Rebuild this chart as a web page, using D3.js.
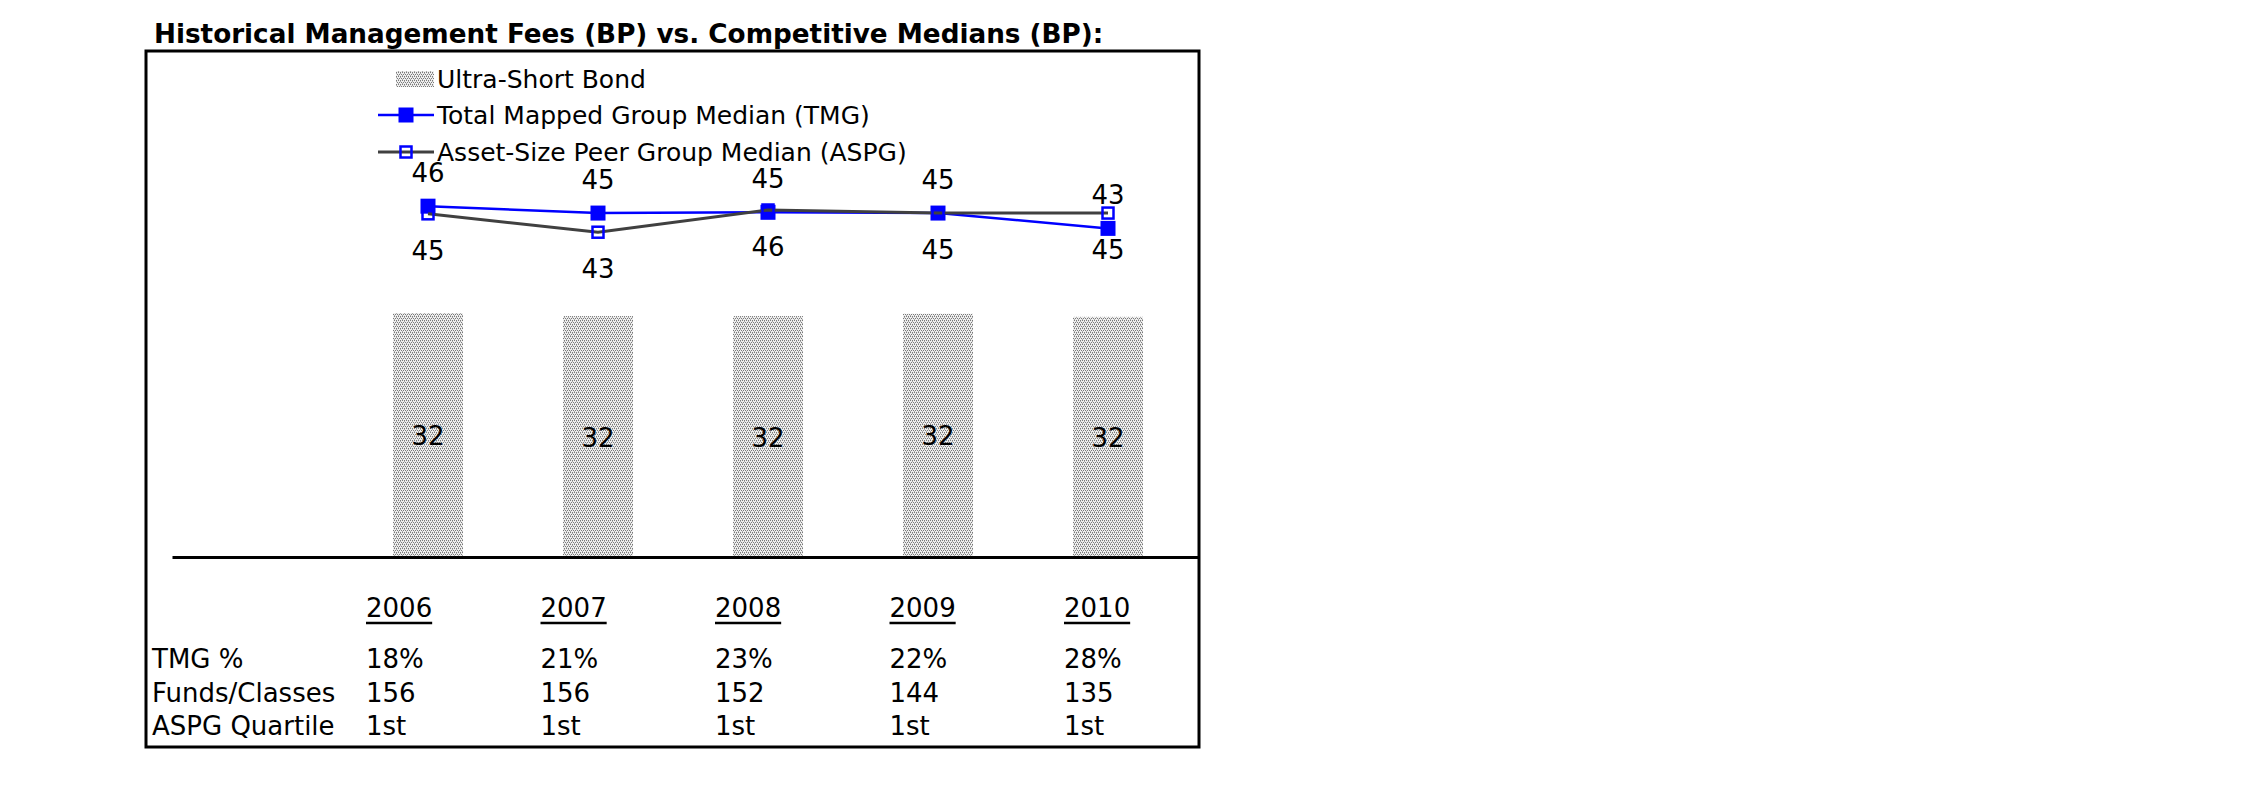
<!DOCTYPE html>
<html>
<head>
<meta charset="utf-8">
<script src="https://cdn.jsdelivr.net/npm/d3@7"></script>
<style>
  html, body { margin: 0; padding: 0; background: #fff; }
  svg { display: block; }
  text { font-family: "DejaVu Sans", Verdana, sans-serif; fill: #000; }
</style>
</head>
<body>
<script>
// ---- data ----
const years = ["2006", "2007", "2008", "2009", "2010"];
const barValues = [31.85, 31.45, 31.45, 31.75, 31.35];
const barLabels = ["32", "32", "32", "32", "32"];
const tmgValues = [45.8, 44.9, 45.0, 44.9, 42.9];
const tmgLabels = ["46", "45", "45", "45", "43"];
const aspgValues = [44.8, 42.4, 45.3, 44.9, 44.9];
const aspgLabels = ["45", "43", "46", "45", "45"];
const tmgPct = ["18%", "21%", "23%", "22%", "28%"];
const fundsClasses = ["156", "156", "152", "144", "135"];
const aspgQuartile = ["1st", "1st", "1st", "1st", "1st"];
const rowLabels = ["TMG %", "Funds/Classes", "ASPG Quartile"];
const seriesNames = ["Ultra-Short Bond", "Total Mapped Group Median (TMG)", "Asset-Size Peer Group Median (ASPG)"];
const titleText = "Historical Management Fees (BP) vs. Competitive Medians (BP):";

// ---- setup ----
const W = 2250, H = 796;
const BLUE = "#0000FF", GRAY = "#404040";
const svg = d3.select("body").append("svg").attr("width", W).attr("height", H);
svg.append("rect").attr("width", W).attr("height", H).attr("fill", "#fff");

const defs = svg.append("defs");
const pat = defs.append("pattern").attr("id", "dots").attr("patternUnits", "userSpaceOnUse")
  .attr("width", 4).attr("height", 4);
pat.append("rect").attr("width", 4).attr("height", 4).attr("fill", "#eeeeee");
[[0,0],[2,0],[1,2],[3,2],[0,1],[2,3]].forEach(([px,py]) => {
  pat.append("rect").attr("x", px).attr("y", py).attr("width", 1).attr("height", 1)
    .attr("fill", py % 2 === 0 ? "#7a7a7a" : "#ababab").attr("shape-rendering", "crispEdges");
});

// Title
const title = svg.append("text").attr("x", 154).attr("y", 43)
  .attr("font-weight", "bold").attr("font-size", 23).text(titleText);
const tl = title.node().getComputedTextLength();
title.attr("font-size", 23 * 950 / tl);

// Frame
svg.append("rect").attr("x", 146).attr("y", 51).attr("width", 1053).attr("height", 696)
  .attr("fill", "none").attr("stroke", "#000").attr("stroke-width", 3);

// Scales
const x = d3.scalePoint().domain(years).range([428, 1108]);
const y = d3.scaleLinear().domain([0, 50]).range([557, 174]);
const barW = 70;

// Bars
svg.append("g").selectAll("rect").data(years).join("rect")
  .attr("x", (d) => Math.round(x(d) - barW / 2))
  .attr("y", (d, i) => y(barValues[i]))
  .attr("width", barW)
  .attr("height", (d, i) => y(0) - y(barValues[i]))
  .attr("fill", "url(#dots)");

svg.append("g").selectAll("text").data(years).join("text")
  .attr("x", (d) => x(d)).attr("y", (d, i) => (y(0) + y(barValues[i])) / 2 + 10)
  .attr("text-anchor", "middle").attr("font-size", 26)
  .text((d, i) => barLabels[i]);

// Baseline axis
const xAxisLine = d3.axisBottom(d3.scaleLinear().range([172, 1199])).ticks(0).tickSize(0);
svg.append("g").attr("transform", `translate(0,${y(0)})`).call(xAxisLine)
  .call((g) => g.select(".domain").attr("stroke", "#000").attr("stroke-width", 3))
  .call((g) => g.selectAll(".tick").remove());

// Lines
const lineGen = d3.line().x((d) => x(d[0])).y((d) => y(d[1]));
const tmgPts = years.map((yr, i) => [yr, tmgValues[i]]);
const aspgPts = years.map((yr, i) => [yr, aspgValues[i]]);

svg.append("path").datum(tmgPts).attr("d", lineGen)
  .attr("fill", "none").attr("stroke", BLUE).attr("stroke-width", 2.5);
const mS = 15;
svg.append("g").selectAll("rect").data(tmgPts).join("rect")
  .attr("x", (d) => x(d[0]) - mS / 2).attr("y", (d) => y(d[1]) - mS / 2)
  .attr("width", mS).attr("height", mS).attr("fill", BLUE);

svg.append("path").datum(aspgPts).attr("d", lineGen)
  .attr("fill", "none").attr("stroke", GRAY).attr("stroke-width", 3);
const oS = 11;
svg.append("g").selectAll("rect").data(aspgPts).join("rect")
  .attr("x", (d) => x(d[0]) - oS / 2).attr("y", (d) => y(d[1]) - oS / 2)
  .attr("width", oS).attr("height", oS).attr("fill", "none")
  .attr("stroke", BLUE).attr("stroke-width", 2.5);

// Line labels
svg.append("g").selectAll("text").data(tmgPts).join("text")
  .attr("x", (d) => x(d[0])).attr("y", (d) => y(d[1]) - 24)
  .attr("text-anchor", "middle").attr("font-size", 26)
  .text((d, i) => tmgLabels[i]);
svg.append("g").selectAll("text").data(aspgPts).join("text")
  .attr("x", (d) => x(d[0])).attr("y", (d) => y(d[1]) + 46)
  .attr("text-anchor", "middle").attr("font-size", 26)
  .text((d, i) => aspgLabels[i]);

// Legend
const lg = svg.append("g").attr("class", "legend");
const legX0 = 378, legX1 = 434, legTextX = 437, swX0 = 396;
const rowsY = [79, 115, 152];
lg.append("rect").attr("x", swX0).attr("y", rowsY[0] - 8).attr("width", legX1 - swX0).attr("height", 16)
  .attr("fill", "url(#dots)");
lg.append("line").attr("x1", legX0).attr("x2", legX1).attr("y1", rowsY[1]).attr("y2", rowsY[1])
  .attr("stroke", BLUE).attr("stroke-width", 2.5);
lg.append("rect").attr("x", (legX0 + legX1) / 2 - mS / 2).attr("y", rowsY[1] - mS / 2)
  .attr("width", mS).attr("height", mS).attr("fill", BLUE);
lg.append("line").attr("x1", legX0).attr("x2", legX1).attr("y1", rowsY[2]).attr("y2", rowsY[2])
  .attr("stroke", GRAY).attr("stroke-width", 3);
lg.append("rect").attr("x", (legX0 + legX1) / 2 - oS / 2).attr("y", rowsY[2] - oS / 2)
  .attr("width", oS).attr("height", oS).attr("fill", "none").attr("stroke", BLUE).attr("stroke-width", 2.5);
lg.selectAll("text.lt").data(seriesNames).join("text").attr("class", "lt")
  .attr("x", legTextX).attr("y", (d, i) => rowsY[i] + 9)
  .attr("font-size", 25).text((d) => d);

// Data table below chart
const col = d3.scalePoint().domain(years).range([366, 1064]);
const tableRows = [tmgPct, fundsClasses, aspgQuartile];
const rowBase = [668, 702, 735];
const yearBase = 617;
const tbl = svg.append("g");
const yt = tbl.selectAll("text.yr").data(years).join("text").attr("class", "yr")
  .attr("x", (d) => col(d)).attr("y", yearBase).attr("font-size", 26).text((d) => d);
yt.each(function (d) {
  const w = this.getComputedTextLength();
  tbl.append("line").attr("x1", col(d)).attr("x2", col(d) + w)
    .attr("y1", yearBase + 6).attr("y2", yearBase + 6).attr("stroke", "#000").attr("stroke-width", 2.5);
});
tbl.selectAll("text.rl").data(rowLabels).join("text").attr("class", "rl")
  .attr("x", 152).attr("y", (d, i) => rowBase[i]).attr("font-size", 26).text((d) => d);
tableRows.forEach((row, r) => {
  tbl.append("g").selectAll("text").data(years).join("text")
    .attr("x", (d) => col(d)).attr("y", rowBase[r]).attr("font-size", 26)
    .text((d, i) => row[i]);
});
</script>
</body>
</html>
